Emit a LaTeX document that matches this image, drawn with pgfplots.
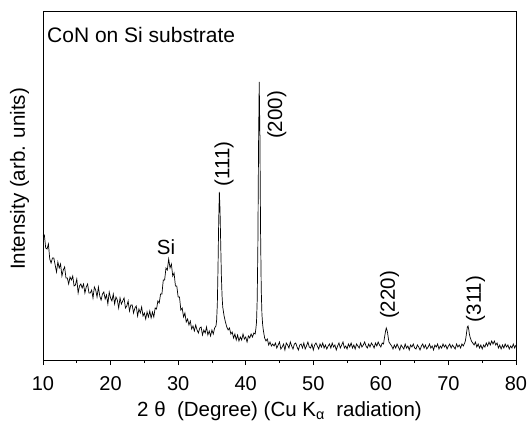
\documentclass[border=0pt]{standalone}
\usepackage{fontspec}
\setmainfont{Liberation Sans}
\usepackage{pgfplots}
\pgfplotsset{compat=1.18}

% XRD scan, intensity in arbitrary units
\pgfplotstableread{
x y
10.0 124
10.2 125
10.4 112
10.6 111
10.8 116
11.0 101
11.2 97
11.4 102
11.6 102
11.8 95
12.0 88
12.2 98
12.4 92
12.6 96
12.8 84
13.0 90
13.2 93
13.4 82
13.6 82
13.8 76
14.0 83
14.2 80
14.4 84
14.6 74
14.8 75
15.0 81
15.2 67
15.4 74
15.6 76
15.8 72
16.0 76
16.2 67
16.4 73
16.6 76
16.8 67
17.0 67
17.2 70
17.4 62
17.6 73
17.8 70
18.0 63
18.2 73
18.4 64
18.6 60
18.8 66
19.0 68
19.2 61
19.4 65
19.6 56
19.8 68
20.0 62
20.2 59
20.4 66
20.6 56
20.8 63
21.0 60
21.2 52
21.4 62
21.6 56
21.8 59
22.0 62
22.2 52
22.4 54
22.6 59
22.8 49
23.0 55
23.2 55
23.4 47
23.6 52
23.8 54
24.0 44
24.2 51
24.4 47
24.6 53
24.8 44
25.0 47
25.2 41
25.4 48
25.6 43
25.8 49
26.0 42
26.2 48
26.4 43
26.6 52
26.8 51
27.0 59
27.2 57
27.4 66
27.6 66
27.8 80
28.0 80
28.2 92
28.4 90
28.6 101
28.8 92
29.0 96
29.2 84
29.4 87
29.6 74
29.8 74
30.0 63
30.2 63
30.4 50
30.6 52
30.8 43
31.0 47
31.2 38
31.4 41
31.6 35
31.8 39
32.0 31
32.2 34
32.4 29
32.6 35
32.8 30
33.0 27
33.2 32
33.4 33
33.6 25
33.8 30
34.0 27
34.2 33
34.4 25
34.6 29
34.8 24
35.0 30
35.2 26
35.4 32
35.6 34
35.7 40
35.8 56
35.9 92
36.0 138
36.1 168
36.2 150
36.3 116
36.4 84
36.5 64
36.6 53
36.8 44
37.0 38
37.2 33
37.4 30
37.6 32
37.8 26
38.0 28
38.2 22
38.4 26
38.6 20
38.8 25
39.0 19
39.2 23
39.4 20
39.6 26
39.8 21
40.0 23
40.2 18
40.4 24
40.6 22
40.8 26
41.0 23
41.2 27
41.4 26
41.5 31
41.6 38
41.7 60
41.8 115
41.9 215
42.0 278
42.1 225
42.2 128
42.3 70
42.4 46
42.5 36
42.6 30
42.8 22
43.0 19
43.2 21
43.4 15
43.6 18
43.8 14
44.0 16
44.2 14
44.4 17
44.6 12
44.8 15
45.0 18
45.2 11
45.4 13
45.6 16
45.8 10
46.0 17
46.2 15
46.4 12
46.6 18
46.8 14
47.0 11
47.2 16
47.4 17
47.6 13
47.8 10
48.0 15
48.2 16
48.4 12
48.6 17
48.8 11
49.0 14
49.2 18
49.4 13
49.6 12
49.8 16
50.0 10
50.2 15
50.4 17
50.6 14
50.8 11
51.0 16
51.2 13
51.4 17
51.6 12
51.8 15
52.0 11
52.2 14
52.4 16
52.6 12
52.8 17
53.0 13
53.2 15
53.4 10
53.6 14
53.8 17
54.0 12
54.2 15
54.4 18
54.6 12
54.8 14
55.0 11
55.2 16
55.4 13
55.6 17
55.8 12
56.0 15
56.2 11
56.4 16
56.6 14
56.8 12
57.0 17
57.2 13
57.4 15
57.6 18
57.8 14
58.0 12
58.2 16
58.4 13
58.6 17
58.8 15
59.0 12
59.2 17
59.4 14
59.6 18
59.8 15
60.0 13
60.2 17
60.4 16
60.5 21
60.6 25
60.7 29
60.8 32
60.9 30
61.0 27
61.1 22
61.2 18
61.4 16
61.6 14
61.8 11
62.0 15
62.2 12
62.4 16
62.6 13
62.8 10
63.0 15
63.2 13
63.4 11
63.6 16
63.8 12
64.0 14
64.2 10
64.4 15
64.6 13
64.8 16
65.0 12
65.2 11
65.4 15
65.6 13
65.8 10
66.0 14
66.2 16
66.4 12
66.6 15
66.8 11
67.0 13
67.2 16
67.4 12
67.6 14
67.8 10
68.0 15
68.2 13
68.4 16
68.6 11
68.8 14
69.0 12
69.2 16
69.4 13
69.6 15
69.8 11
70.0 14
70.2 16
70.4 12
70.6 15
70.8 13
71.0 11
71.2 16
71.4 13
71.6 15
71.8 12
72.0 16
72.2 14
72.4 17
72.5 19
72.6 23
72.7 28
72.8 33
72.9 34
73.0 31
73.1 26
73.2 23
73.4 19
73.6 17
73.8 15
74.0 18
74.2 13
74.4 16
74.6 12
74.8 15
75.0 11
75.2 15
75.4 13
75.6 17
75.8 14
76.0 18
76.2 15
76.4 19
76.6 16
76.8 19
77.0 15
77.2 17
77.4 12
77.6 15
77.8 11
78.0 15
78.2 12
78.4 16
78.6 13
78.8 15
79.0 11
79.2 14
79.4 12
79.6 16
79.8 12
80.0 15
}\xrd

\begin{document}
\begin{tikzpicture}
\begin{axis}[
    scale only axis,
    width=473pt, height=349pt,
    xmin=10, xmax=80,
    ymin=0, ymax=349,
    xtick={10,20,...,80},
    minor x tick num=1,
    ytick=\empty,
    xtick pos=bottom,
    tick align=outside,
    major tick length=5pt,
    minor tick length=3pt,
    axis line style={line width=0.8pt},
    every tick/.style={line width=0.8pt, black},
    /pgf/number format/assume math mode=true,
    tick label style={font=\fontsize{20}{24}\selectfont},
    xticklabel style={yshift=-8pt},
    label style={font=\fontsize{20.5}{24}\selectfont},
    xlabel={2 θ~~(Degree) (Cu K\textsubscript{α}~~radiation)},
    xlabel style={at={(axis description cs:0.5,0)}, anchor=base, yshift=-56pt},
    ylabel={Intensity (arb. units)},
    ylabel style={at={(axis description cs:-0.0497,0.5186)}, anchor=center},
    clip=false,
]
\addplot[black, line width=0.7pt] table[x=x, y=y] {\xrd};

\node[anchor=north west, inner sep=0pt, font=\fontsize{21}{24}\selectfont]
    at ([xshift=4pt, yshift=-16pt]rel axis cs:0,1) {CoN on Si substrate};
\node[font=\fontsize{20.5}{24}\selectfont] at (axis cs:28.2,113) {Si};
\node[rotate=90, font=\fontsize{20.5}{24}\selectfont] at (axis cs:36.8,196) {(111)};
\node[rotate=90, font=\fontsize{20.5}{24}\selectfont] at (axis cs:44.6,245) {(200)};
\node[rotate=90, font=\fontsize{20.5}{24}\selectfont] at (axis cs:61.3,65) {(220)};
\node[rotate=90, font=\fontsize{20.5}{24}\selectfont] at (axis cs:74.0,61) {(311)};

\coordinate (sw) at (rel axis cs:0,0);
\end{axis}
\pgfresetboundingbox
\path (sw) ++(-43pt,-64pt) rectangle ++(531pt,424pt);
\end{tikzpicture}
\end{document}
